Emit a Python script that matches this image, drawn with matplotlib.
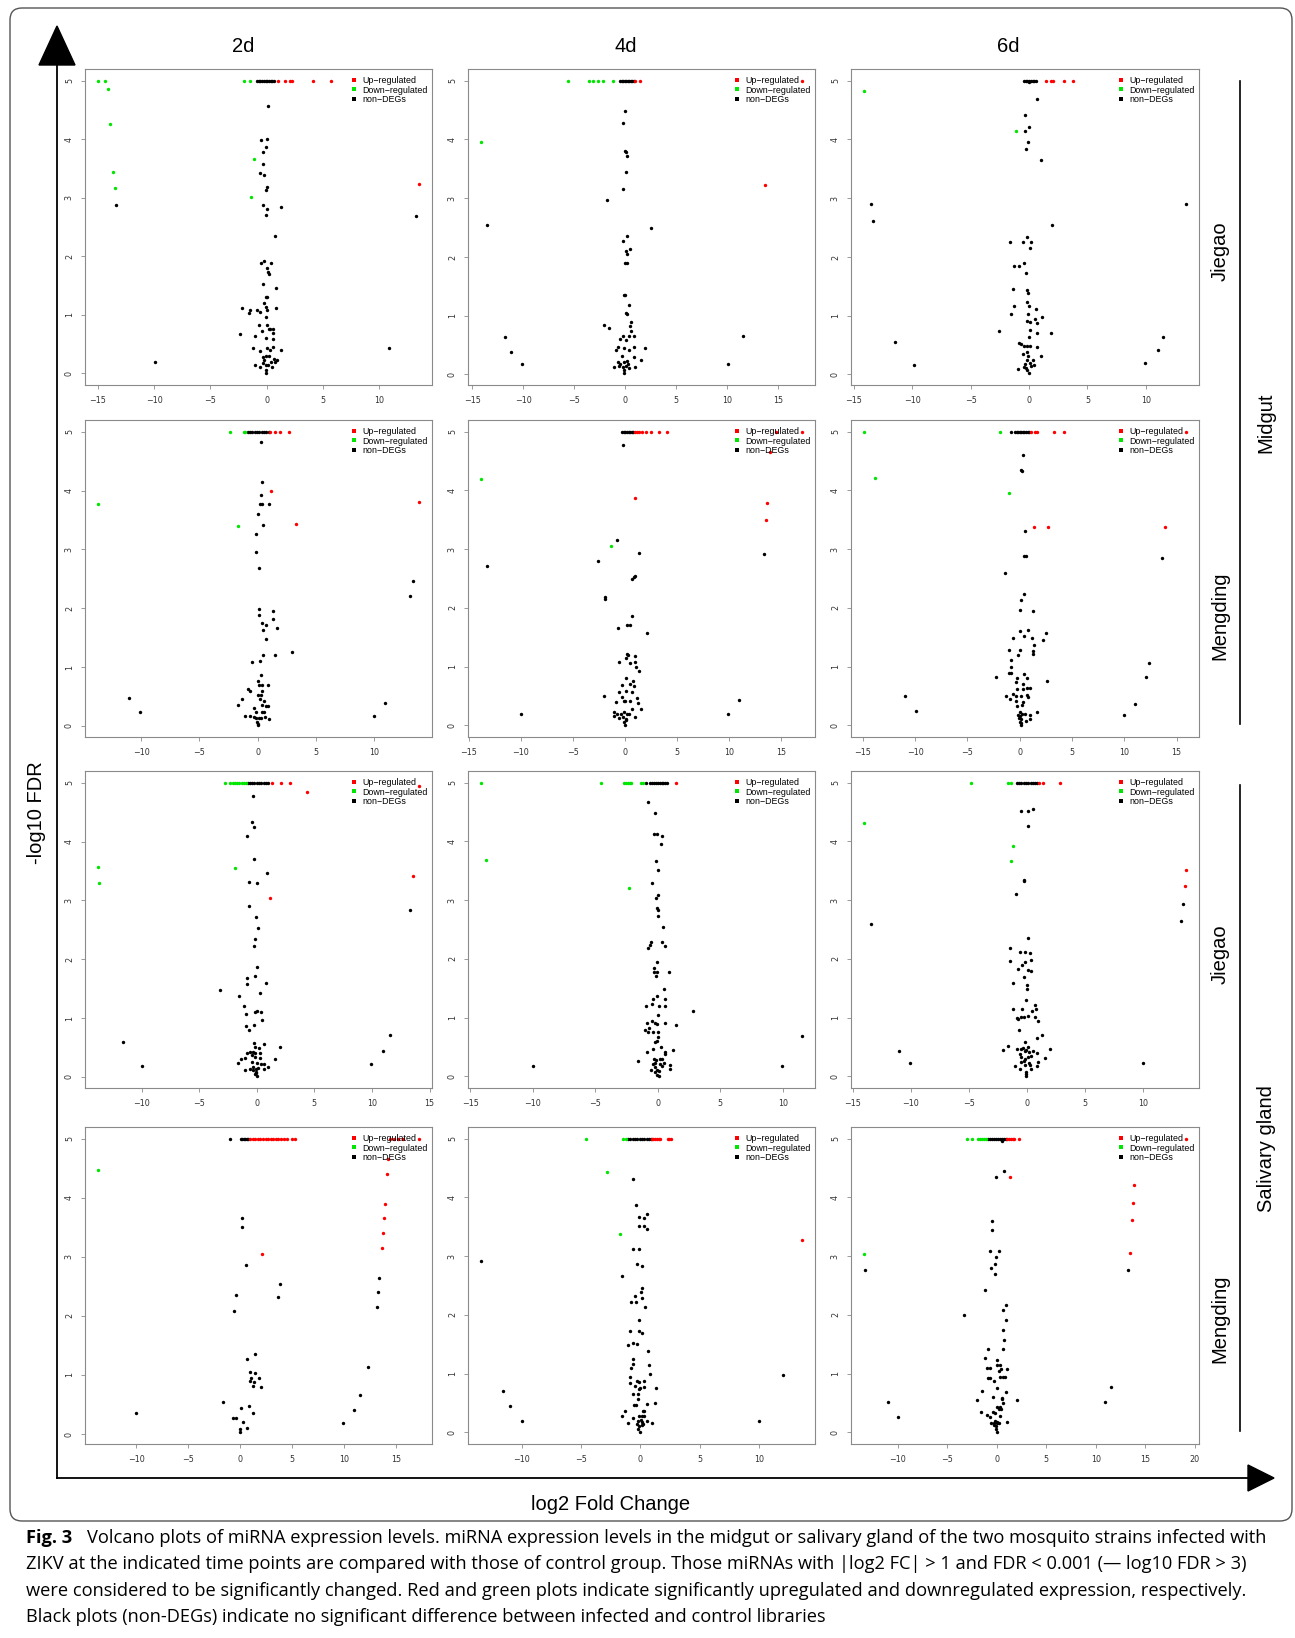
"""Volcano plots of miRNA expression (midgut / salivary gland, Jiegao / Mengding, 2d/4d/6d)."""
import matplotlib

matplotlib.use("Agg")
import matplotlib.pyplot as plt
from matplotlib.lines import Line2D
from matplotlib.patches import FancyBboxPatch, Polygon
from matplotlib.ticker import MultipleLocator

W, H, DPI = 1295, 1638, 100
RED = "#ff0000"
GREEN = "#00e600"
FRAME = "#8a8a8a"
SANS = "Liberation Sans"
CAP_FONT = "Open Sans"

# ---- data: (log2 FC, -log10 FDR) per panel -------------------------------
# midgut, Jiegao
mg_jg_2d_up = [(1.0, 5), (1.65, 5), (2.1, 5), (2.25, 5), (4.15, 5), (5.7, 5), (13.55, 3.23)]
mg_jg_2d_down = [(-15.0, 5), (-14.35, 5), (-14.1, 4.85), (-13.95, 4.26), (-13.65, 3.44), (-13.5, 3.16),
                 (-2.05, 5), (-1.45, 5), (-1.15, 3.66), (-1.35, 3.02)]
mg_jg_2d_non = [(-0.85, 5), (-0.7, 5), (-0.55, 5), (-0.4, 5), (-0.25, 5), (-0.1, 5), (0.05, 5), (0.2, 5),
                (0.35, 5), (0.5, 5), (0.65, 5), (0.15, 4.57), (-0.5, 3.98), (0.05, 4.0), (-0.1, 3.86),
                (-0.35, 3.79), (-0.35, 3.57), (-0.6, 3.43), (-0.25, 3.39), (0.05, 3.19), (-0.1, 3.14),
                (-13.4, 2.88), (-0.3, 2.88), (1.25, 2.84), (0.05, 2.8), (-0.05, 2.7), (13.25, 2.69),
                (0.75, 2.34), (-0.2, 1.92), (-0.5, 1.88), (0.4, 1.88), (0.0, 1.8), (0.1, 1.73), (0.2, 1.69),
                (-0.35, 1.52), (0.8, 1.46), (-0.1, 1.31), (0.05, 1.31), (-0.2, 1.2), (-0.1, 1.13), (0.05, 1.09),
                (0.8, 1.11), (-2.2, 1.11), (-1.45, 1.09), (-1.6, 1.03), (-0.9, 1.08), (-0.55, 1.04),
                (-0.05, 0.96), (-0.7, 0.82), (0.05, 0.82), (0.2, 0.76), (-0.45, 0.73), (0.6, 0.75), (0.3, 0.76),
                (0.55, 0.69), (-2.35, 0.68), (-1.05, 0.64), (-0.05, 0.6), (0.55, 0.59), (-1.25, 0.44),
                (0.05, 0.44), (0.55, 0.45), (-0.55, 0.38), (1.3, 0.39), (0.3, 0.39), (10.9, 0.44),
                (-9.95, 0.19), (-0.35, 0.27), (-0.05, 0.29), (0.25, 0.29), (0.65, 0.25), (0.95, 0.23),
                (-0.2, 0.22), (0.4, 0.19), (0.75, 0.19), (-1.05, 0.14), (-0.6, 0.1), (-0.35, 0.17),
                (0.45, 0.1), (-0.05, 0.06), (-0.05, 0.0), (-0.1, 0.14), (0.1, 0.14)]

mg_jg_4d_up = [(1.0, 5), (1.5, 5), (17.35, 5), (13.7, 3.22)]
mg_jg_4d_down = [(-5.65, 5), (-3.55, 5), (-3.15, 5), (-2.65, 5), (-2.2, 5), (-1.15, 5), (-14.15, 3.96)]
mg_jg_4d_non = [(-0.5, 5), (-0.35, 5), (-0.2, 5), (-0.05, 5), (0.1, 5), (0.25, 5), (0.4, 5), (0.55, 5),
                (0.7, 5), (0.85, 5), (0.0, 4.48), (-0.25, 4.28), (-0.05, 3.8), (0.05, 3.78), (0.2, 3.72),
                (0.05, 3.45), (-0.2, 3.16), (-1.75, 2.97), (-13.55, 2.55), (2.5, 2.5), (0.15, 2.36),
                (-0.2, 2.27), (0.5, 2.13), (0.05, 2.11), (0.15, 2.05), (-0.05, 1.89), (0.15, 1.9),
                (-0.15, 1.36), (-0.05, 1.35), (0.35, 1.18), (0.05, 1.05), (0.15, 1.03), (0.55, 0.89),
                (-2.1, 0.85), (-1.6, 0.79), (0.5, 0.82), (0.6, 0.74), (0.35, 0.66), (-0.25, 0.65), (0.9, 0.66),
                (-11.8, 0.64), (-0.5, 0.6), (0.05, 0.59), (11.6, 0.65), (-0.75, 0.47), (-0.9, 0.42),
                (-0.15, 0.45), (0.35, 0.42), (0.9, 0.47), (1.9, 0.45), (-11.2, 0.38), (-0.35, 0.31),
                (0.9, 0.29), (1.55, 0.25), (-10.15, 0.17), (10.05, 0.17), (-0.7, 0.22), (-0.5, 0.18),
                (-0.15, 0.22), (0.15, 0.23), (-1.05, 0.12), (-0.6, 0.15), (-0.25, 0.13), (0.05, 0.14),
                (0.4, 0.11), (-0.1, 0.08), (-0.1, 0.02), (1.0, 0.13), (0.25, 0.18)]

mg_jg_6d_up = [(1.45, 5), (1.9, 5), (2.05, 5), (2.95, 5), (3.8, 5)]
mg_jg_6d_down = [(-14.15, 4.82), (-1.1, 4.15)]
mg_jg_6d_non = [(-0.45, 5), (-0.3, 5), (-0.15, 5), (0.0, 5), (0.15, 5), (0.3, 5), (0.45, 5), (0.6, 5),
                (0.0, 4.97), (0.7, 4.69), (-0.35, 4.42), (-0.05, 4.22), (-0.35, 4.15), (-0.1, 3.95),
                (-0.3, 3.83), (1.0, 3.65), (-13.5, 2.9), (-13.35, 2.62), (13.45, 2.9), (1.95, 2.55),
                (-0.15, 2.34), (-1.65, 2.26), (-0.5, 2.26), (0.15, 2.26), (0.1, 2.15), (-0.45, 1.9),
                (-1.3, 1.84), (-0.9, 1.84), (-0.25, 1.73), (-1.35, 1.45), (-0.15, 1.44), (-0.1, 1.39),
                (-0.15, 1.24), (-1.25, 1.16), (-0.05, 1.16), (0.55, 1.11), (-1.55, 1.03), (-0.1, 1.03),
                (1.1, 0.98), (0.5, 0.95), (-0.2, 0.91), (0.1, 0.9), (0.7, 0.88), (-2.55, 0.74), (0.1, 0.76),
                (0.7, 0.71), (1.85, 0.71), (-0.05, 0.63), (-11.5, 0.55), (-0.9, 0.54), (-0.65, 0.52),
                (-0.45, 0.49), (-0.15, 0.49), (0.05, 0.48), (0.7, 0.47), (-0.2, 0.39), (-0.55, 0.34),
                (1.05, 0.32), (11.5, 0.63), (11.0, 0.41), (9.95, 0.19), (-9.9, 0.16), (-0.15, 0.25),
                (0.3, 0.24), (-0.35, 0.18), (0.1, 0.19), (0.4, 0.16), (-0.95, 0.1), (-0.45, 0.12),
                (-0.2, 0.07), (0.0, 0.02), (-0.25, 0.11), (0.15, 0.14), (-0.1, 0.32)]

# midgut, Mengding
mg_md_2d_up = [(1.05, 5), (1.45, 5), (1.95, 5), (2.65, 5), (1.15, 4.0), (13.85, 3.8), (3.3, 3.44)]
mg_md_2d_down = [(-2.35, 5), (-1.2, 5), (-1.05, 5), (-13.7, 3.77), (-1.65, 3.39)]
mg_md_2d_non = [(-0.85, 5), (-0.65, 5), (-0.45, 5), (-0.25, 5), (-0.05, 5), (0.15, 5), (0.35, 5), (0.55, 5),
                (0.75, 5), (0.95, 5), (0.25, 4.83), (0.4, 4.15), (0.25, 3.92), (0.2, 3.77), (0.4, 3.77),
                (0.95, 3.77), (0.05, 3.6), (0.45, 3.41), (-0.15, 3.27), (-0.1, 2.96), (0.15, 2.68),
                (13.3, 2.47), (13.1, 2.2), (0.15, 1.98), (0.15, 1.88), (1.35, 1.95), (1.3, 1.81), (0.35, 1.74),
                (0.75, 1.71), (0.45, 1.63), (1.7, 1.66), (0.75, 1.48), (2.95, 1.25), (0.45, 1.2), (1.45, 1.2),
                (0.2, 1.11), (-0.5, 1.09), (0.3, 0.86), (0.0, 0.77), (0.1, 0.7), (0.4, 0.69), (0.85, 0.69),
                (-0.85, 0.62), (-0.65, 0.6), (0.4, 0.6), (0.05, 0.53), (0.25, 0.53), (-11.05, 0.48),
                (-1.35, 0.45), (0.2, 0.46), (0.55, 0.43), (-1.65, 0.35), (0.35, 0.36), (0.7, 0.33),
                (0.85, 0.34), (10.95, 0.39), (-0.3, 0.31), (-10.05, 0.23), (9.95, 0.17), (-0.1, 0.24),
                (0.35, 0.23), (0.55, 0.24), (-1.05, 0.17), (-0.65, 0.16), (-0.35, 0.15), (-0.15, 0.14),
                (0.1, 0.14), (0.3, 0.14), (0.65, 0.15), (0.95, 0.12), (-0.05, 0.06), (0.0, 0.01), (0.05, 0.03)]

mg_md_4d_up = [(1.0, 5), (1.2, 5), (1.4, 5), (1.6, 5), (2.05, 5), (2.55, 5), (3.3, 5), (4.05, 5), (14.55, 5),
               (17.05, 5), (13.95, 4.65), (1.0, 3.87), (13.7, 3.78), (13.6, 3.49)]
mg_md_4d_down = [(-13.85, 4.19), (-1.35, 3.05)]
mg_md_4d_non = [(-0.25, 5), (-0.1, 5), (0.05, 5), (0.2, 5), (0.35, 5), (0.5, 5), (0.65, 5), (0.8, 5),
                (-0.15, 4.77), (-0.75, 3.16), (1.4, 2.94), (13.35, 2.92), (-13.3, 2.72), (-2.6, 2.79),
                (1.0, 2.55), (0.85, 2.53), (0.65, 2.49), (-1.9, 2.18), (-1.95, 2.15), (0.7, 1.86), (0.25, 1.71),
                (0.45, 1.7), (-0.7, 1.66), (2.1, 1.58), (0.2, 1.22), (0.3, 1.19), (0.15, 1.15), (1.0, 1.18),
                (-0.6, 1.08), (0.5, 1.06), (0.95, 1.07), (1.1, 1.0), (1.35, 0.93), (0.1, 0.81), (0.75, 0.75),
                (0.5, 0.71), (-0.25, 0.68), (0.9, 0.67), (0.1, 0.58), (0.65, 0.57), (-0.55, 0.56), (-2.0, 0.49),
                (-0.3, 0.48), (-0.85, 0.39), (-0.1, 0.41), (0.05, 0.41), (0.5, 0.41), (1.15, 0.46), (1.25, 0.38),
                (10.95, 0.43), (0.65, 0.28), (1.55, 0.27), (-9.95, 0.19), (9.95, 0.19), (-1.0, 0.23),
                (-1.0, 0.16), (-0.75, 0.19), (-0.35, 0.2), (-0.05, 0.22), (0.2, 0.2), (0.4, 0.19), (1.0, 0.14),
                (-0.15, 0.14), (0.15, 0.11), (-0.05, 0.06), (0.0, 0.0), (0.1, 0.085), (-0.55, 0.125)]

mg_md_6d_up = [(1.05, 5), (1.45, 5), (1.6, 5), (3.3, 5), (4.25, 5), (15.9, 5), (1.4, 3.38), (2.7, 3.38),
               (13.9, 3.37)]
mg_md_6d_down = [(-14.9, 5), (-1.9, 5), (-13.8, 4.21), (-1.0, 3.96)]
mg_md_6d_non = [(-0.85, 5), (-0.45, 5), (-0.3, 5), (-0.15, 5), (0.0, 5), (0.15, 5), (0.3, 5), (0.45, 5),
                (0.6, 5), (0.75, 5), (0.9, 5), (0.3, 4.61), (0.15, 4.35), (0.2, 4.33), (0.5, 3.31), (0.4, 2.89),
                (0.55, 2.88), (13.6, 2.85), (-1.4, 2.59), (0.4, 2.24), (0.1, 2.13), (0.05, 1.96), (1.25, 1.94),
                (0.05, 1.6), (0.75, 1.62), (2.5, 1.57), (-0.65, 1.49), (0.4, 1.52), (1.2, 1.49), (2.25, 1.46),
                (1.35, 1.36), (-1.05, 1.29), (0.05, 1.29), (1.25, 1.26), (1.25, 1.21), (-0.15, 1.19),
                (-0.85, 1.12), (-0.85, 1.0), (12.35, 1.06), (-1.0, 0.89), (-0.8, 0.89), (0.4, 0.88),
                (-2.3, 0.82), (-0.25, 0.8), (0.65, 0.8), (12.05, 0.82), (-0.35, 0.74), (2.6, 0.75), (0.3, 0.7),
                (0.7, 0.64), (1.0, 0.63), (-0.3, 0.62), (0.35, 0.61), (-10.95, 0.5), (-0.6, 0.54), (-1.3, 0.5),
                (-0.95, 0.45), (0.15, 0.49), (-0.4, 0.49), (0.65, 0.51), (0.8, 0.48), (11.05, 0.37),
                (-0.35, 0.41), (0.3, 0.39), (0.2, 0.35), (-0.3, 0.33), (-9.95, 0.25), (1.65, 0.23),
                (9.95, 0.18), (0.05, 0.22), (0.25, 0.2), (-0.2, 0.18), (0.05, 0.16), (0.5, 0.19), (1.0, 0.18),
                (1.0, 0.11), (0.1, 0.11), (0.6, 0.08), (0.15, 0.03), (0.05, 0.06), (-0.1, 0.12), (0.1, 0.0)]

# salivary gland, Jiegao
sg_jg_2d_up = [(1.35, 5), (2.1, 5), (2.85, 5), (4.35, 4.84), (14.1, 4.95), (13.6, 3.42), (1.15, 3.04)]
sg_jg_2d_down = [(-2.75, 5), (-2.3, 5), (-2.1, 5), (-1.9, 5), (-1.7, 5), (-1.5, 5), (-1.3, 5), (-1.1, 5),
                 (-0.9, 5), (-13.8, 3.56), (-13.7, 3.3), (-1.85, 3.55)]
sg_jg_2d_non = [(-0.8, 5), (-0.6, 5), (-0.4, 5), (-0.2, 5), (0.0, 5), (0.2, 5), (0.4, 5), (0.6, 5), (0.8, 5),
                (1.0, 5), (-0.3, 4.77), (-0.45, 4.33), (-0.25, 4.25), (-0.85, 4.1), (-0.25, 3.71), (0.9, 3.46),
                (-0.7, 3.32), (0.05, 3.3), (-0.7, 2.91), (13.3, 2.83), (-0.05, 2.71), (0.1, 2.53),
                (-0.15, 2.34), (-0.2, 2.22), (0.05, 1.86), (-0.15, 1.72), (-0.85, 1.68), (-0.85, 1.58),
                (0.8, 1.6), (-3.15, 1.47), (0.3, 1.43), (-1.5, 1.37), (-1.15, 1.21), (-0.15, 1.11), (0.05, 1.12),
                (0.35, 1.11), (-0.95, 1.06), (0.45, 0.96), (-0.95, 0.86), (-0.25, 0.88), (-0.65, 0.79),
                (11.6, 0.71), (-11.6, 0.59), (-0.25, 0.57), (0.6, 0.55), (2.0, 0.51), (-0.15, 0.5), (0.2, 0.49),
                (11.0, 0.44), (-0.85, 0.4), (-0.6, 0.42), (-0.35, 0.42), (-0.15, 0.41), (0.25, 0.41),
                (-0.45, 0.37), (-0.15, 0.34), (0.25, 0.32), (-1.0, 0.32), (-1.35, 0.3), (1.55, 0.31),
                (-1.6, 0.24), (-0.4, 0.25), (0.05, 0.24), (0.35, 0.22), (0.6, 0.22), (9.95, 0.21),
                (-10.0, 0.18), (1.0, 0.16), (-1.0, 0.11), (-0.6, 0.14), (-0.35, 0.16), (-0.1, 0.14),
                (0.15, 0.15), (0.6, 0.14), (-0.05, 0.085), (-0.15, 0.045), (0.0, 0.01), (-0.05, 0.06),
                (-0.35, 0.11)]

sg_jg_4d_up = [(1.45, 5)]
sg_jg_4d_down = [(-14.15, 5), (-4.55, 5), (-2.7, 5), (-2.55, 5), (-2.4, 5), (-2.25, 5), (-2.1, 5), (-1.35, 5),
                 (-1.2, 5), (-13.7, 3.69), (-2.3, 3.21)]
sg_jg_4d_non = [(-0.95, 5), (-0.6, 5), (-0.45, 5), (-0.3, 5), (-0.15, 5), (0.0, 5), (0.15, 5), (0.3, 5),
                (0.45, 5), (0.6, 5), (0.75, 5), (-0.75, 4.68), (-0.2, 4.48), (-0.3, 4.13), (-0.1, 4.12),
                (0.35, 4.09), (0.25, 3.95), (-0.15, 3.67), (0.05, 3.52), (-0.5, 3.3), (0.05, 3.09),
                (-0.15, 3.04), (-0.1, 2.86), (0.05, 2.84), (0.05, 2.73), (0.4, 2.55), (-0.55, 2.28),
                (-0.65, 2.23), (-0.75, 2.18), (0.3, 2.28), (0.55, 2.22), (-0.1, 1.94), (-0.3, 1.84),
                (-0.3, 1.77), (-0.05, 1.77), (0.9, 1.78), (-0.15, 1.7), (0.5, 1.49), (-0.05, 1.37),
                (-0.35, 1.31), (0.6, 1.31), (-0.5, 1.23), (-0.95, 1.19), (0.1, 1.19), (0.55, 1.2), (2.8, 1.12),
                (0.0, 1.05), (-0.45, 0.94), (-0.9, 0.9), (-0.25, 0.91), (-0.05, 0.89), (0.55, 0.91),
                (1.45, 0.87), (-0.7, 0.83), (-1.0, 0.79), (-0.75, 0.75), (-0.35, 0.76), (0.0, 0.75),
                (11.55, 0.68), (0.05, 0.67), (-0.25, 0.59), (-0.05, 0.6), (0.25, 0.5), (-0.4, 0.46),
                (-0.9, 0.41), (0.55, 0.41), (1.2, 0.45), (0.55, 0.38), (-1.6, 0.26), (-9.95, 0.18), (9.95, 0.18),
                (1.0, 0.2), (1.0, 0.13), (-0.3, 0.3), (-0.15, 0.27), (0.15, 0.3), (0.35, 0.29), (0.5, 0.22),
                (-0.35, 0.21), (-0.2, 0.16), (0.2, 0.21), (0.3, 0.17), (-0.55, 0.1), (-0.2, 0.07),
                (-0.05, 0.02), (0.1, 0.0), (-0.1, 0.1), (0.1, 0.09), (-0.25, 0.23)]

sg_jg_6d_up = [(1.0, 5), (1.4, 5), (2.85, 5), (13.7, 3.52), (13.6, 3.24)]
sg_jg_6d_down = [(-4.85, 5), (-1.65, 5), (-1.35, 5), (-14.05, 4.31), (-1.2, 3.92), (-1.35, 3.66)]
sg_jg_6d_non = [(-0.9, 5), (-0.7, 5), (-0.5, 5), (-0.3, 5), (-0.1, 5), (0.1, 5), (0.3, 5), (0.5, 5), (0.7, 5),
                (0.85, 5), (-0.5, 4.52), (0.05, 4.52), (0.55, 4.55), (0.1, 4.26), (-0.25, 3.34), (-0.3, 3.32),
                (-0.95, 3.1), (13.45, 2.94), (-13.4, 2.59), (13.3, 2.65), (0.1, 2.35), (-1.5, 2.18),
                (-0.6, 2.12), (-0.15, 2.11), (0.25, 2.1), (-1.45, 1.96), (0.35, 1.98), (-0.2, 1.94),
                (-0.45, 1.9), (-0.8, 1.82), (0.05, 1.81), (0.35, 1.8), (-0.3, 1.69), (-1.2, 1.59), (0.0, 1.55),
                (0.0, 1.49), (-0.1, 1.3), (0.65, 1.22), (-1.2, 1.14), (-0.4, 1.15), (0.45, 1.11), (0.75, 1.14),
                (-0.85, 1.0), (-0.8, 0.98), (-0.5, 1.01), (-0.3, 1.01), (0.1, 1.03), (0.7, 1.01), (0.95, 0.94),
                (-0.7, 0.78), (1.3, 0.71), (0.85, 0.66), (-0.15, 0.59), (-1.65, 0.51), (-11.05, 0.43),
                (-2.05, 0.45), (-0.9, 0.46), (-0.5, 0.47), (-0.35, 0.48), (0.1, 0.49), (1.95, 0.47),
                (-0.2, 0.43), (-0.05, 0.44), (0.2, 0.42), (0.55, 0.43), (-0.6, 0.38), (0.85, 0.39),
                (-0.5, 0.32), (-0.2, 0.3), (0.05, 0.32), (0.3, 0.34), (1.55, 0.31), (-0.55, 0.25),
                (-0.25, 0.26), (0.15, 0.23), (0.95, 0.25), (-10.05, 0.23), (9.95, 0.23), (-1.05, 0.17),
                (-0.6, 0.13), (-0.15, 0.19), (0.35, 0.12), (0.9, 0.17), (-0.05, 0.07), (-0.1, 0.03),
                (-0.05, 0.0), (0.25, 0.19)]

# salivary gland, Mengding
sg_md_2d_up = [(0.95, 5), (1.2, 5), (1.45, 5), (1.7, 5), (1.95, 5), (2.2, 5), (2.45, 5), (2.7, 5), (2.95, 5),
               (3.2, 5), (3.45, 5), (3.7, 5), (3.95, 5), (4.2, 5), (4.55, 5), (5.05, 5), (5.25, 5), (14.4, 5),
               (14.8, 5), (15.2, 5), (15.7, 5), (17.25, 5), (14.25, 4.65), (14.15, 4.4), (14.0, 3.89),
               (13.9, 3.65), (13.8, 3.4), (13.7, 3.15), (2.1, 3.04)]
sg_md_2d_down = [(-13.7, 4.47)]
sg_md_2d_non = [(-1.0, 5), (0.05, 5), (0.2, 5), (0.35, 5), (0.5, 5), (0.65, 5), (0.8, 5), (0.2, 3.65),
                (0.15, 3.51), (0.6, 2.87), (3.8, 2.54), (-0.4, 2.36), (3.65, 2.32), (-0.55, 2.09), (13.4, 2.64),
                (13.3, 2.4), (13.15, 2.15), (1.45, 1.35), (0.7, 1.27), (12.3, 1.14), (0.95, 1.05), (1.45, 1.04),
                (1.85, 0.95), (1.1, 0.95), (0.95, 0.9), (1.35, 0.88), (1.2, 0.82), (2.0, 0.79), (11.55, 0.66),
                (-1.65, 0.54), (0.9, 0.47), (0.1, 0.44), (1.2, 0.36), (11.0, 0.41), (-10.0, 0.36),
                (-0.65, 0.27), (-0.35, 0.27), (0.3, 0.21), (9.95, 0.18), (0.7, 0.11), (-0.05, 0.08), (0.0, 0.03)]

sg_md_4d_up = [(0.95, 5), (1.1, 5), (1.25, 5), (1.4, 5), (1.55, 5), (1.7, 5), (2.3, 5), (2.45, 5), (2.6, 5),
               (13.65, 3.27)]
sg_md_4d_down = [(-4.6, 5), (-1.45, 5), (-1.2, 5), (-2.8, 4.44), (-1.75, 3.38)]
sg_md_4d_non = [(-1.05, 5), (-0.85, 5), (-0.65, 5), (-0.45, 5), (-0.25, 5), (-0.05, 5), (0.15, 5), (0.35, 5),
                (0.55, 5), (0.75, 5), (0.9, 5), (-0.6, 4.31), (-0.4, 3.87), (0.6, 3.72), (-0.1, 3.67),
                (0.35, 3.65), (-0.15, 3.52), (0.3, 3.52), (0.6, 3.47), (-0.65, 3.12), (-0.1, 3.13),
                (-13.45, 2.91), (-0.3, 2.86), (0.1, 2.83), (-1.55, 2.67), (0.15, 2.45), (0.05, 2.39),
                (0.1, 2.29), (-0.45, 2.32), (-0.8, 2.22), (-0.4, 2.22), (0.4, 2.14), (-0.1, 1.92), (-0.9, 1.73),
                (-0.15, 1.73), (0.15, 1.69), (-0.65, 1.52), (-0.25, 1.5), (-1.05, 1.48), (0.65, 1.39),
                (-0.65, 1.24), (-0.65, 1.17), (-0.75, 1.1), (0.7, 1.14), (0.85, 0.99), (-0.85, 0.94),
                (-0.3, 0.88), (-0.9, 0.84), (-0.1, 0.85), (0.3, 0.87), (-0.45, 0.78), (0.35, 0.77),
                (-0.1, 0.74), (1.35, 0.76), (0.0, 0.76), (-11.55, 0.7), (-0.65, 0.65), (-0.2, 0.65),
                (-0.2, 0.57), (-0.55, 0.47), (-0.35, 0.465), (0.55, 0.48), (1.25, 0.49), (-11.0, 0.44),
                (-1.3, 0.37), (0.25, 0.37), (0.35, 0.36), (-1.55, 0.28), (-0.65, 0.24), (12.0, 0.98),
                (-9.95, 0.2), (10.0, 0.2), (-1.0, 0.15), (1.0, 0.15), (0.6, 0.19), (-0.1, 0.28), (0.1, 0.28),
                (0.3, 0.27), (-0.2, 0.2), (0.05, 0.21), (0.15, 0.18), (-0.25, 0.14), (-0.1, 0.11),
                (0.1, 0.125), (-0.2, 0.06), (0.0, 0.0), (0.25, 0.14)]

sg_md_6d_up = [(1.0, 5), (1.2, 5), (1.4, 5), (1.6, 5), (1.75, 5), (2.2, 5), (19.15, 5), (1.3, 4.35),
               (13.85, 4.21), (13.8, 3.91), (13.7, 3.62), (13.5, 3.05)]
sg_md_6d_down = [(-3.05, 5), (-2.5, 5), (-1.9, 5), (-1.7, 5), (-1.5, 5), (-1.3, 5), (-1.1, 5), (-13.45, 3.04)]
sg_md_6d_non = [(-0.9, 5), (-0.7, 5), (-0.5, 5), (-0.3, 5), (-0.1, 5), (0.1, 5), (0.3, 5), (0.5, 5), (0.7, 5),
                (0.9, 5), (0.55, 4.97), (0.75, 4.45), (-0.05, 4.34), (-0.45, 3.6), (-0.45, 3.45), (-0.65, 3.09),
                (0.25, 3.09), (-0.1, 2.99), (-0.15, 2.87), (-13.3, 2.77), (-0.55, 2.79), (13.3, 2.77),
                (-0.2, 2.69), (-1.2, 2.43), (0.95, 2.17), (0.6, 2.08), (-3.35, 1.99), (0.95, 1.91), (0.65, 1.74),
                (0.75, 1.58), (-0.85, 1.41), (0.6, 1.41), (-1.2, 1.27), (0.0, 1.23), (0.05, 1.14), (0.35, 1.14),
                (-0.95, 1.1), (-0.7, 1.09), (0.45, 1.08), (1.0, 1.08), (0.2, 1.04), (-0.3, 0.88), (-0.9, 0.92),
                (-0.7, 0.92), (0.35, 0.94), (0.6, 0.94), (0.8, 0.94), (0.0, 0.75), (-1.45, 0.7), (11.6, 0.77),
                (0.9, 0.69), (-0.35, 0.6), (0.5, 0.59), (0.5, 0.56), (-2.0, 0.55), (2.0, 0.55), (-11.0, 0.51),
                (10.95, 0.51), (0.6, 0.49), (0.35, 0.43), (0.0, 0.43), (0.45, 0.39), (0.2, 0.39), (-1.6, 0.35),
                (-0.35, 0.35), (-0.2, 0.32), (-1.0, 0.29), (0.3, 0.28), (-0.7, 0.26), (-10.0, 0.26),
                (1.0, 0.17), (-0.15, 0.2), (0.05, 0.18), (0.25, 0.15), (-0.55, 0.15), (-0.3, 0.125),
                (-0.1, 0.1), (0.05, 0.15), (0.0, 0.0), (-0.05, 0.06), (-0.25, 0.15)]

PANELS = [
    [(mg_jg_2d_up, mg_jg_2d_down, mg_jg_2d_non), (mg_jg_4d_up, mg_jg_4d_down, mg_jg_4d_non),
     (mg_jg_6d_up, mg_jg_6d_down, mg_jg_6d_non)],
    [(mg_md_2d_up, mg_md_2d_down, mg_md_2d_non), (mg_md_4d_up, mg_md_4d_down, mg_md_4d_non),
     (mg_md_6d_up, mg_md_6d_down, mg_md_6d_non)],
    [(sg_jg_2d_up, sg_jg_2d_down, sg_jg_2d_non), (sg_jg_4d_up, sg_jg_4d_down, sg_jg_4d_non),
     (sg_jg_6d_up, sg_jg_6d_down, sg_jg_6d_non)],
    [(sg_md_2d_up, sg_md_2d_down, sg_md_2d_non), (sg_md_4d_up, sg_md_4d_down, sg_md_4d_non),
     (sg_md_6d_up, sg_md_6d_down, sg_md_6d_non)],
]
DAYS = ["2d", "4d", "6d"]
LEGEND_LABELS = ["Up\u2212regulated", "Down\u2212regulated", "non\u2212DEGs"]
CAPTION = [
    "ZIKV at the indicated time points are compared with those of control group. Those miRNAs with "
    "|log2 FC| > 1 and FDR < 0.001 (\u2014 log10 FDR > 3)",
    "were considered to be significantly changed. Red and green plots indicate significantly upregulated "
    "and downregulated expression, respectively.",
    "Black plots (non-DEGs) indicate no significant difference between infected and control libraries",
]
CAPTION_HEAD = "Volcano plots of miRNA expression levels. miRNA expression levels in the midgut or " \
               "salivary gland of the two mosquito strains infected with"

# panel boxes in pixels of the 1295x1638 canvas
COLS = [(85, 432), (468, 815), (851, 1199)]
ROWS = [(69, 385), (420, 737), (771, 1088), (1127, 1444)]
TITLE_X = [243, 626, 1008]


def _scatter(ax, pts, color):
    ax.scatter([p[0] for p in pts], [p[1] for p in pts], s=6, c=color, marker="o", linewidths=0)


def draw_panel(ax, up, down, non):
    _scatter(ax, non, "black")
    _scatter(ax, down, GREEN)
    _scatter(ax, up, RED)
    ax.margins(0.04)
    ax.set_yticks(range(6))
    ax.xaxis.set_major_locator(MultipleLocator(5))
    ax.tick_params(direction="out", length=3, width=0.6, color=FRAME, labelsize=5.8,
                   labelcolor="#333333", pad=5)
    for lab in ax.get_yticklabels():
        lab.set_rotation(90)
        lab.set_va("center")
    ax.set_xticklabels([f"{t:g}".replace("-", "\u2212") for t in ax.get_xticks()])
    for sp in ax.spines.values():
        sp.set_color(FRAME)
        sp.set_linewidth(0.8)
    handles = [Line2D([], [], ls="", marker="s", markersize=3.2, color=c, markeredgewidth=0)
               for c in (RED, GREEN, "black")]
    ax.legend(handles, LEGEND_LABELS, loc="upper right", bbox_to_anchor=(1.006, 1.0), frameon=False,
              handlelength=0.6, handletextpad=0.6, labelspacing=0.1, borderaxespad=0.0,
              borderpad=0.75, prop={"family": SANS, "size": 6.4})


def main():
    fig = plt.figure(figsize=(W / DPI, H / DPI), dpi=DPI)
    over = fig.add_axes([0, 0, 1, 1])
    over.set_xlim(0, W)
    over.set_ylim(H, 0)
    over.axis("off")

    for r, (top, bot) in enumerate(ROWS):
        for c, (left, right) in enumerate(COLS):
            ax = fig.add_axes([left / W, 1 - bot / H, (right - left) / W, (bot - top) / H])
            draw_panel(ax, *PANELS[r][c])

    # outer frame and arrows
    over.add_patch(FancyBboxPatch((10, 8), 1282, 1513, boxstyle="round,pad=0,rounding_size=12",
                                  fill=False, ec="#555555", lw=1.0))
    over.plot([57, 57], [1478, 60], color="black", lw=1.3)
    over.plot([57, 1250], [1478, 1478], color="black", lw=1.3)
    over.add_patch(Polygon([(57, 26), (39, 65), (75, 65)], closed=True, color="black"))
    over.add_patch(Polygon([(1274, 1478), (1248, 1465), (1248, 1491)], closed=True, color="black"))

    # titles and labels
    for x, day in zip(TITLE_X, DAYS):
        over.text(x, 47, day, ha="center", va="center", fontsize=14.5, family=SANS)
    over.text(36, 813, "-log10 FDR", rotation=90, ha="center", va="center", fontsize=14.5, family=SANS)
    over.text(611, 1504, "log2 Fold Change", ha="center", va="center", fontsize=14.5, family=SANS)

    for y0, y1 in [(81, 724), (785, 1431)]:
        over.plot([1240, 1240], [y0, y1], color="black", lw=1.2)
    for x, y, s in [(1220, 251, "Jiegao"), (1220, 616, "Mengding"), (1266, 423, "Midgut"),
                    (1220, 954, "Jiegao"), (1220, 1319, "Mengding"), (1266, 1149, "Salivary gland")]:
        over.text(x, y, s, rotation=90, ha="center", va="center", fontsize=14.5, family=SANS)

    # caption, sized so the second line spans its width in the reference
    renderer = fig.canvas.get_renderer()
    probe = over.text(0, 0, CAPTION[0], fontsize=10, family=CAP_FONT)
    size = 10 * 1223 / probe.get_window_extent(renderer).width
    probe.remove()
    over.text(26, 1538, "Fig. 3", fontsize=size, family=CAP_FONT, weight="bold", va="center")
    over.text(87, 1538, CAPTION_HEAD, fontsize=size, family=CAP_FONT, va="center")
    for i, line in enumerate(CAPTION):
        over.text(26, 1564 + 26.5 * i, line, fontsize=size, family=CAP_FONT, va="center")

    fig.savefig("out.png", dpi=DPI, facecolor="white")


if __name__ == "__main__":
    main()
